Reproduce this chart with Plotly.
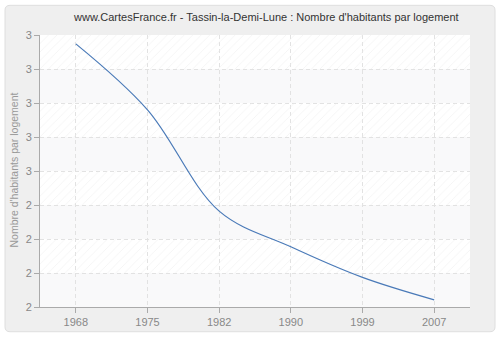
import plotly.graph_objects as go

years = ["1968", "1975", "1982", "1990", "1999", "2007"]
values = [2.874, 2.680, 2.382, 2.277, 2.187, 2.121]
tick_vals = [2.1, 2.2, 2.3, 2.4, 2.5, 2.6, 2.7, 2.8, 2.9]
tick_text = ["2", "2", "2", "2", "3", "3", "3", "3", "3"]

L, R, T, B = 40, 30, 35, 30
W, H = 500, 340
pw, ph = W - L - R, H - T - B

def px(x):
    return (x - L) / pw

def py(y):
    return (H - B - y) / ph

fig = go.Figure()

# hatched bands (alternate rows, from the top)
hatch_x, hatch_base, hatch_h = [], [], []
n = len(tick_vals)
for i in range(n - 1):
    lo, hi = tick_vals[i], tick_vals[i + 1]
    if (n - 2 - i) % 2 == 0:
        for c in years:
            hatch_x.append(c)
            hatch_base.append(lo)
            hatch_h.append(hi - lo)
fig.add_trace(go.Bar(
    x=hatch_x, y=hatch_h, base=hatch_base, width=1.0,
    marker=dict(color="rgba(255,255,255,0)", line=dict(width=0),
                pattern=dict(shape="/", fgcolor="#ebebeb", bgcolor="rgba(255,255,255,0)",
                             size=6, solidity=0.15, fillmode="overlay")),
    hoverinfo="skip", showlegend=False,
))

fig.add_trace(go.Scatter(
    x=years, y=values, mode="lines",
    line=dict(color="#4a7ab8", width=1.2, shape="spline", smoothing=1.0),
    showlegend=False,
))

shapes = []
# outer rounded panel
x0, x1 = px(5), px(495)
y0, y1 = py(335), py(5)
rx, ry = 5 / pw, 5 / ph
path = (f"M {x0+rx},{y1} L {x1-rx},{y1} Q {x1},{y1} {x1},{y1-ry} "
        f"L {x1},{y0+ry} Q {x1},{y0} {x1-rx},{y0} L {x0+rx},{y0} "
        f"Q {x0},{y0} {x0},{y0+ry} L {x0},{y1-ry} Q {x0},{y1} {x0+rx},{y1} Z")
shapes.append(dict(type="path", xref="paper", yref="paper", path=path,
                   fillcolor="#efefef", line=dict(color="#dedede", width=1), layer="below"))
# plot area background
shapes.append(dict(type="rect", xref="paper", yref="paper", x0=0, x1=1, y0=0, y1=1,
                   fillcolor="#ffffff", line=dict(width=0), layer="below"))
# plain (lighter) bands
for i in range(n - 1):
    if (n - 2 - i) % 2 == 1:
        shapes.append(dict(type="rect", xref="paper", yref="y", x0=0, x1=1,
                           y0=tick_vals[i], y1=tick_vals[i + 1],
                           fillcolor="#f9f9fa", line=dict(width=0), layer="below"))

fig.update_layout(
    width=W, height=H,
    margin=dict(l=L, r=R, t=T, b=B),
    paper_bgcolor="white",
    plot_bgcolor="white",
    barmode="overlay",
    bargap=0,
    shapes=shapes,
    font=dict(family="Liberation Sans, Arial, sans-serif", size=11, color="#888888"),
    annotations=[
        dict(text="www.CartesFrance.fr - Tassin-la-Demi-Lune : Nombre d'habitants par logement",
             xref="paper", yref="paper", x=px(266), y=py(17), xanchor="center", yanchor="middle",
             showarrow=False, font=dict(size=11, color="#333333")),
        dict(text="Nombre d'habitants par logement",
             xref="paper", yref="paper", x=px(14), y=py(172), xanchor="center", yanchor="middle",
             textangle=-90, showarrow=False, font=dict(size=10.5, color="#999999")),
    ],
    xaxis=dict(
        type="category", range=[-0.5, 5.5], showgrid=True, gridcolor="#e2e2e2",
        griddash="4px,3px", gridwidth=1,
        showline=True, linecolor="#aaaaaa", linewidth=1,
        ticks="outside", ticklen=5, tickcolor="#aaaaaa",
        tickfont=dict(size=11, color="#888888"), zeroline=False, fixedrange=True,
    ),
    yaxis=dict(
        range=[tick_vals[0], tick_vals[-1]], tickvals=tick_vals, ticktext=tick_text,
        showgrid=True, gridcolor="#e2e2e2", griddash="4px,3px", gridwidth=1,
        showline=True, linecolor="#aaaaaa", linewidth=1,
        ticks="outside", ticklen=5, tickcolor="#aaaaaa",
        tickfont=dict(size=11, color="#888888"), zeroline=False, fixedrange=True,
    ),
)

fig.write_html("out.html")
